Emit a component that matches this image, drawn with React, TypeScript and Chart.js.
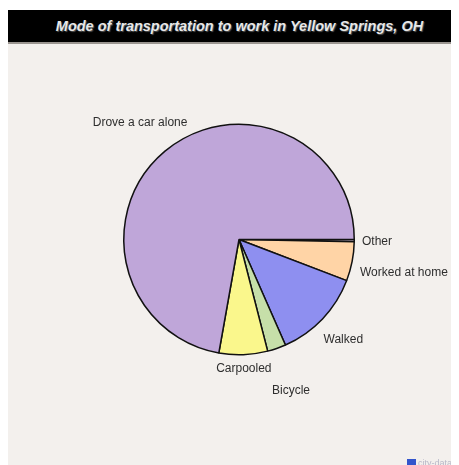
import React, { useEffect, useRef } from "react";
import { Chart, registerables } from "chart.js";

Chart.register(...registerables);

const TITLE = "Mode of transportation to work in Yellow Springs, OH";
const categories = ["Other", "Worked at home", "Walked", "Bicycle", "Carpooled", "Drove a car alone"];
const shares = [0.3, 5.5, 12.6, 2.6, 6.8, 72.2];
const sliceColors = ["#D8C8E0", "#FFD4A6", "#8E8FF0", "#C6DFA9", "#FAF78C", "#BFA6D9"];
const labelDistances = [138, 168, 144, 159, 128, 154];

const labelPlugin = {
  id: "outerLabels",
  afterDraw(chart: any) {
    const ctx = chart.ctx;
    const meta = chart.getDatasetMeta(0);
    ctx.save();
    ctx.font = '12px "Liberation Sans", Arial, sans-serif';
    ctx.fillStyle = "#2e2e2e";
    ctx.textAlign = "center";
    ctx.textBaseline = "middle";
    meta.data.forEach((arc: any, i: number) => {
      const mid = (arc.startAngle + arc.endAngle) / 2;
      const d = labelDistances[i];
      ctx.fillText(chart.data.labels[i], arc.x + Math.cos(mid) * d, arc.y + Math.sin(mid) * d + 1);
    });
    ctx.restore();
  },
};

export default function App() {
  const ref = useRef<HTMLCanvasElement>(null);
  useEffect(() => {
    if (!ref.current) return;
    const chart = new Chart(ref.current, {
      type: "pie",
      data: {
        labels: categories,
        datasets: [
          {
            data: shares,
            backgroundColor: sliceColors,
            borderColor: "#111111",
            borderWidth: 1.5,
          },
        ],
      },
      options: {
        responsive: false,
        animation: false,
        rotation: 90,
        layout: { padding: { left: 115, right: 104, top: 79, bottom: 109 } },
        plugins: {
          legend: { display: false },
          tooltip: { enabled: false },
          title: { display: false },
        },
      },
      plugins: [labelPlugin],
    });
    return () => chart.destroy();
  }, []);

  return (
    <div
      style={{
        position: "relative",
        width: 451,
        height: 455,
        marginTop: 2,
        background: "#F3F0ED",
        overflow: "hidden",
      }}
    >
      <div
        style={{
          height: 32,
          background: "#000",
          borderBottom: "2px solid #9a9590",
          color: "#e8e8e8",
          font: 'italic bold 14.5px "Liberation Sans", Arial, sans-serif',
          lineHeight: "32px",
          textAlign: "center",
          paddingLeft: 12,
          textShadow: "1px 1px 1px #555",
        }}
      >
        {TITLE}
      </div>
      <canvas ref={ref} width={451} height={421} style={{ display: "block" }} />
      <div
        style={{
          position: "absolute",
          left: 399,
          top: 448,
          display: "flex",
          alignItems: "center",
          font: '9px "Liberation Sans", Arial, sans-serif',
          color: "#b8b8c8",
          whiteSpace: "nowrap",
        }}
      >
        <span style={{ display: "inline-block", width: 9, height: 8, background: "#3355cc", marginRight: 2 }} />
        city-data.com
      </div>
    </div>
  );
}
